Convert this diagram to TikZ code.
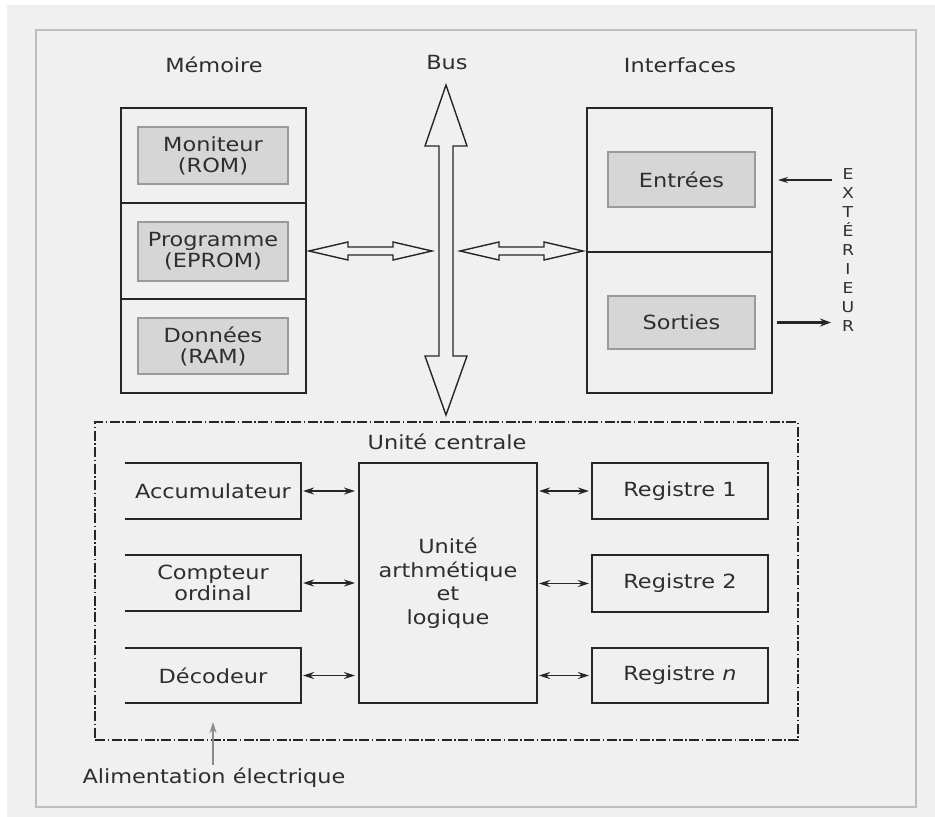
\documentclass[tikz,border=0pt]{standalone}
\usepackage{fontspec}
\setmainfont{DejaVu Sans}[FakeStretch=1.15]
\usetikzlibrary{arrows.meta,calc}
\definecolor{paper}{HTML}{F0F0F0}
\definecolor{ink}{HTML}{262626}
\definecolor{txt}{HTML}{2E2E2E}
\definecolor{cellfill}{HTML}{D6D6D6}
\definecolor{celledge}{HTML}{9A9A9A}
\definecolor{framegray}{HTML}{BEBEBE}
\definecolor{powergray}{HTML}{8C8C8C}

% hollow double arrow, horizontal: left tip #1, right tip #2
\newcommand\hollowH[2]{%
  \draw[hollow] (#1) -- ++(39,-9) -- ++(0,5) -- ($(#2)+(-39,-4)$) -- ++(0,-5)
    -- (#2) -- ++(-39,9) -- ++(0,-5) -- ($(#1)+(39,4)$) -- ++(0,5) -- cycle;}
% hollow double arrow, vertical: top tip #1, bottom tip #2
\newcommand\hollowV[2]{%
  \draw[hollow] (#1) -- ++(21,61) -- ++(-14,0) -- ($(#2)+(7,-59)$) -- ++(14,0)
    -- (#2) -- ++(-21,-59) -- ++(14,0) -- ($(#1)+(-7,61)$) -- ++(-14,0) -- cycle;}

\begin{document}
\begin{tikzpicture}[x=1pt,y=-1pt,
  font=\fontsize{19.5}{21}\selectfont,
  box/.style={draw=ink, line width=1.6pt, inner sep=0pt, outer sep=0pt,
    align=center, text=txt},
  cell/.style={draw=celledge, fill=cellfill, line width=1.2pt, inner sep=0pt,
    outer sep=0pt, align=center, text=txt},
  openbox/.style={inner sep=0pt, outer sep=0pt, align=center, text=txt,
    minimum width=176pt},
  caption/.style={text=txt, inner sep=0pt},
  hollow/.style={draw=ink, line width=1.4pt, fill=paper, line join=miter},
  link/.style={draw=ink, line width=1.6pt,
    {Stealth[length=11pt,width=7pt]}-{Stealth[length=11pt,width=7pt]}},
  inarrow/.style={draw=ink, line width=1.5pt, -{Stealth[length=10pt,width=6pt]}},
  outarrow/.style={draw=ink, line width=3pt, -{Stealth[length=11pt,width=8pt]}},
  powerarrow/.style={draw=powergray, line width=1.6pt, -{Stealth[length=11pt,width=7pt]}},
  chain/.style={draw=ink, line width=1.5pt,
    dash pattern=on 10pt off 2.5pt on 1.5pt off 2.5pt},
]
\useasboundingbox (0,0) rectangle (935,817);
\fill[white] (0,0) rectangle (935,817);
\fill[paper] (7,5) rectangle (935,817);
\draw[framegray, line width=2pt] (36,30) rectangle (916,807);

% ---- headings
\node[caption] (memtitle) at (214,65) {Mémoire};
\node[caption] (bustitle) at (447,63) {Bus};
\node[caption] (iftitle) at (680,65) {Interfaces};

% ---- memory
\node[box, minimum width=185pt, minimum height=95pt] (memA) at (213.5,155.5) {};
\node[box, minimum width=185pt, minimum height=96pt] (memB) at (213.5,251) {};
\node[box, minimum width=185pt, minimum height=94pt] (memC) at (213.5,346) {};
\node[cell, minimum width=150pt, minimum height=57pt] (moni) at (213,155.5) {Moniteur\\(ROM)};
\node[cell, minimum width=150pt, minimum height=59pt] (prog) at (213,251.5) {Programme\\(EPROM)};
\node[cell, minimum width=150pt, minimum height=56pt] (donn) at (213,346) {Données\\(RAM)};

% ---- interfaces
\node[box, minimum width=185pt, minimum height=144pt] (ifA) at (679.5,180) {};
\node[box, minimum width=185pt, minimum height=141pt] (ifB) at (679.5,322.5) {};
\node[cell, minimum width=147pt, minimum height=55pt] (entrees) at (681.5,179.5) {Entrées};
\node[cell, minimum width=147pt, minimum height=53pt] (sorties) at (681.5,322.5) {Sorties};

\node[caption, font=\fontsize{15}{19}\selectfont, align=center] (ext) at (848,250)
  {E\\X\\T\\É\\R\\I\\E\\U\\R};
\coordinate (inSrc) at (832,180);
\coordinate (outDst) at (831,323);
\draw[inarrow] (inSrc) -- ($(ifA.east |- inSrc)+(6,0)$);
\draw[outarrow] ($(ifB.east |- sorties)+(5,0)$) -- (outDst |- sorties);

% ---- bus
\coordinate (bustop) at (446,85);
\coordinate (busbot) at (446,415);
\hollowV{bustop}{busbot}
\hollowH{$(memB.east)+(3,0)$}{$(bustop |- memB.east)+(-14,0)$}
\hollowH{$(bustop |- memB.east)+(14,0)$}{$(ifB.west |- memB.east)+(-4,0)$}

% ---- central unit
\node[chain, minimum width=703pt, minimum height=318pt, inner sep=0pt] (cu) at (446.5,581) {};
\node[caption] (cutitle) at (447,442) {Unité centrale};
\node[box, minimum width=178pt, minimum height=240pt, font=\fontsize{19.5}{23.5}\selectfont]
  (alu) at (448,583) {Unité\\arthmétique\\et\\logique};

\node[openbox, minimum height=56pt] (accu) at (213,491) {Accumulateur};
\node[openbox, minimum height=56pt] (comp) at (213,583) {Compteur\\ordinal};
\node[openbox, minimum height=55pt] (deco) at (213,675.5) {Décodeur};
\foreach \n in {accu,comp,deco}
  \draw[ink, line width=1.6pt] (\n.north west) -- (\n.north east)
    -- (\n.south east) -- (\n.south west);

\node[box, minimum width=176pt, minimum height=56pt] (reg1) at (680,491) {Registre 1};
\node[box, minimum width=176pt, minimum height=57pt] (reg2) at (680,583.5) {Registre 2};
\node[box, minimum width=176pt, minimum height=55pt] (regn) at (680,675.5) {Registre \textit{n}};

\foreach \n in {accu,comp,deco}
  \draw[link, shorten <=2pt, shorten >=4pt] (\n.east) -- (alu.west |- \n.east);
\foreach \n in {reg1,reg2,regn}
  \draw[link, shorten <=2pt, shorten >=3pt] (alu.east |- \n.west) -- (\n.west);

% ---- power supply
\node[caption] (alimtxt) at (214,778) {Alimentation électrique};
\coordinate (alimTip) at (213,722);
\draw[powerarrow] (alimTip |- alimtxt.north) ++(0,-3) -- (alimTip);
\end{tikzpicture}
\end{document}
